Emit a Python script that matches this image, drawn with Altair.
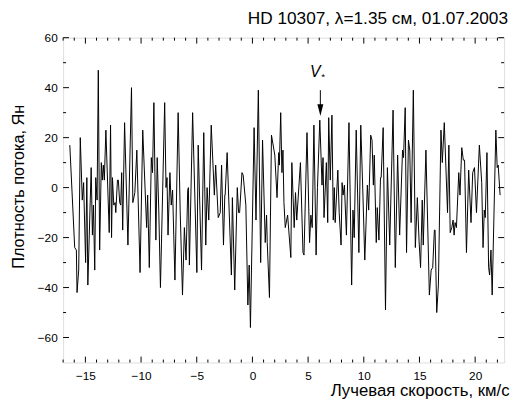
import altair as alt
import pandas as pd

# ---- data ----
velocity = [
    -16.40, -15.96, -15.81, -15.75, -15.60, -15.46, -15.28, -15.16, -14.98, -14.87,
    -14.78, -14.48, -14.37, -14.28, -14.16, -14.07, -13.95, -13.84, -13.72, -13.57,
    -13.48, -13.39, -13.30, -13.16, -12.86, -12.74, -12.65, -12.57, -12.45, -12.33,
    -12.27, -12.12, -12.04, -11.92, -11.83, -11.74, -11.65, -11.48, -11.18, -10.86,
    -10.74, -10.56, -10.38, -10.09, -9.85, -9.50, -9.41, -9.26, -9.08, -8.97,
    -8.85, -8.67, -8.55, -8.41, -8.26, -7.88, -7.76, -7.67, -7.58, -7.41,
    -7.29, -7.17, -6.96, -6.67, -6.49, -6.28, -6.11, -5.96, -5.81, -5.75,
    -5.66, -5.37, -4.99, -4.87, -4.57, -4.37, -4.19, -4.07, -3.92, -3.70,
    -3.42, -3.30, -3.07, -2.89, -2.77, -2.60, -2.48, -2.45, -2.27, -1.89,
    -1.80, -1.59, -1.36, -1.24, -1.15, -0.94, -0.83, -0.59, -0.41, -0.29,
    -0.18, 0.15, 0.32, 0.53, 0.74, 0.91, 1.15, 1.27, 1.33, 1.53,
    1.71, 2.01, 2.21, 2.36, 2.42, 2.54, 2.65, 2.74, 2.83, 2.95,
    3.16, 3.45, 3.54, 3.75, 3.87, 3.98, 4.31, 4.54, 4.63, 4.90,
    5.13, 5.25, 5.37, 5.52, 5.72, 5.84, 6.05, 6.25, 6.34, 6.43,
    6.64, 6.76, 6.85, 6.99, 7.14, 7.26, 7.35, 7.43, 7.67, 7.79,
    7.96, 8.05, 8.14, 8.26, 8.44, 8.67, 8.91, 9.03, 9.14, 9.32,
    9.56, 9.73, 9.91, 10.09, 10.32, 10.44, 10.62, 10.74, 10.86, 10.94,
    11.12, 11.21, 11.36, 11.50, 11.56, 11.74, 11.95, 12.12, 12.33, 12.63,
    12.83, 13.04, 13.22, 13.48, 13.57, 13.72, 13.84, 14.01, 14.13, 14.25,
    14.45, 14.63, 14.81, 14.96, 15.10, 15.25, 15.34, 15.58, 15.89, 16.05,
    16.19, 16.34, 16.40, 16.55, 16.70, 16.93, 17.05, 17.23, 17.52, 17.64,
    17.76, 17.90, 18.02, 18.11, 18.20, 18.32, 18.53, 18.64, 18.80, 18.94,
    19.05, 19.22, 19.42, 19.63, 19.78, 19.94, 20.12, 20.38, 20.59, 20.71,
    20.82, 20.91, 21.06, 21.21, 21.30, 21.42, 21.53, 21.86, 21.98, 22.07,
    22.24,
]
flux = [
    17, -24, -25, -42, -33, 20, -5, 2, -30, 4,
    -39, 8, -19, -7, -33, 4, -5, 47, -25, 10,
    3, 9, 3, 23, -18, 25, -20, 4, -7, -6,
    -10, 3, 3, -6, -7, 6, -17, 26, -23, 40,
    -6, -2, 15, -34, 23, -16, -3, -32, 12, 6,
    34, -21, 12, -9, -40, 34, 0, 4, -19, 6,
    -7, -1, -37, 30, -9, -43, -16, -29, -1, 0,
    -31, 30, -34, 17, -33, 22, -23, 0, -13, 25,
    -3, 9, -12, -10, 9, -23, -3, -3, 14, -35,
    -4, -41, 0, -10, -10, 6, 5, -7, -47, -31,
    -56, 24, -13, 39, -30, 19, -22, -11, -22, -44,
    21, 13, -4, 14, 9, 30, 6, 15, -6, -16,
    -11, -28, 10, -16, -2, -13, 10, -26, -27, 22,
    -22, -11, -16, 25, -27, 0, 27, 1, 12, -12,
    10, -14, 28, 3, 29, -13, 0, -14, 7, -10,
    -23, 2, -3, 1, -19, 26, -39, -9, -20, 23,
    -26, 25, -1, -29, 1, -9, 21, 19, 1, 13,
    -22, -8, -21, 4, 4, 24, -49, 8, -23, 31,
    -32, 13, -19, 15, 12, 32, -26, 19, 15, -14,
    39, -24, -4, -21, -32, -5, -23, 15, -43, -33,
    -32, -17, -17, -50, -39, 23, 10, 26, -10, 17,
    -18, -16, -13, -19, -14, -16, 6, -3, 16, 11,
    11, -26, 7, -14, 6, 8, -10, 17, 2, -24,
    -9, -12, 14, -32, -35, -25, -43, 23, 8, 9,
    -3,
]
x_major = [-15, -10, -5, 0, 5, 10, 15, 20]
x_minor = [v for v in range(-17, 23) if v % 5 != 0]
y_major = [-60, -40, -20, 0, 20, 40, 60]
y_minor = [-50, -30, -10, 10, 30, 50]

title_text = "HD 10307, \u03bb=1.35 \u0441\u043c, 01.07.2003"
x_title = "\u041b\u0443\u0447\u0435\u0432\u0430\u044f \u0441\u043a\u043e\u0440\u043e\u0441\u0442\u044c, \u043a\u043c/\u0441"
y_title = "\u041f\u043b\u043e\u0442\u043d\u043e\u0441\u0442\u044c \u043f\u043e\u0442\u043e\u043a\u0430, \u042f\u043d"

marker_v = [6.1]
marker_top = [39.0]
marker_head = [31.0]
label_v = [5.65]
label_f = [46.3]

# ---- chart ----
W, H = 448, 330
FONT = "Liberation Sans"
xs = alt.Scale(domain=[-17, 22.6], nice=False, zero=False)
ys = alt.Scale(domain=[-70, 60], nice=False, zero=False)

xaxis = alt.Axis(
    values=x_major, title=x_title, ticks=False, tickSize=0, domain=False, grid=False,
    labelFontSize=12, labelFont=FONT, labelColor="black", labelPadding=8,
    titleFont=FONT, titleFontSize=17, titleFontWeight="normal", titleColor="black",
    titleAlign="right", titleAnchor="end", titleBaseline="alphabetic",
    titleX=453, titleY=34)
yaxis = alt.Axis(
    values=y_major, title=y_title, ticks=False, tickSize=0, domain=False, grid=False,
    labelFontSize=12, labelFont=FONT, labelColor="black", labelPadding=6,
    titleFont=FONT, titleFontSize=16.5, titleFontWeight="normal", titleColor="black",
    titleX=-37, titleY=151)


def X(field):
    return alt.X(field, scale=xs, axis=xaxis)


def Y(field):
    return alt.Y(field, scale=ys, axis=yaxis)


line = alt.Chart(pd.DataFrame({"v": velocity, "f": flux})).mark_line(
    color="black", strokeWidth=1
).encode(x=X("v:Q"), y=Y("f:Q"))


def xticks(vals, y0, y1):
    return alt.Chart(pd.DataFrame({"v": vals})).mark_rule(color="black", strokeWidth=1).encode(
        x=X("v:Q"), y=alt.value(y0), y2=alt.value(y1))


def yticks(vals, x0, x1):
    return alt.Chart(pd.DataFrame({"f": vals})).mark_rule(color="black", strokeWidth=1).encode(
        y=Y("f:Q"), x=alt.value(x0), x2=alt.value(x1))


ticks = [
    xticks(x_major, H, H - 6), xticks(x_minor, H, H - 3),
    xticks(x_major, 0, 6), xticks(x_minor, 0, 3),
    yticks(y_major, 0, 6), yticks(y_minor, 0, 3),
    yticks(y_major, W, W - 6), yticks(y_minor, W, W - 3),
]

mk = pd.DataFrame({"v": marker_v, "top": marker_top, "head": marker_head})
arrow_shaft = alt.Chart(mk).mark_rule(color="black", strokeWidth=1).encode(
    x=X("v:Q"), y=Y("top:Q"), y2="head:Q")
arrow_head = alt.Chart(mk).mark_point(
    shape="M-0.5,-1L0.5,-1L0,1Z", filled=True, color="black", size=144, opacity=1
).encode(x=X("v:Q"), y=Y("head:Q"))

lab = pd.DataFrame({"v": label_v, "f": label_f})
v_text = alt.Chart(lab).mark_text(
    text="V", font=FONT, fontSize=16, fontStyle="italic", color="black", align="center", baseline="middle"
).encode(x=X("v:Q"), y=Y("f:Q"))
star_text = alt.Chart(lab).mark_text(
    text="*", font=FONT, fontSize=10, color="black", align="left", baseline="middle", dx=6, dy=5
).encode(x=X("v:Q"), y=Y("f:Q"))

title = alt.Chart(pd.DataFrame({"t": [title_text]})).mark_text(
    font=FONT, fontSize=17.5, color="black", align="right", baseline="alphabetic"
).encode(text="t:N", x=alt.value(452), y=alt.value(-14))

chart = alt.layer(line, *ticks, arrow_shaft, arrow_head, v_text, star_text, title).properties(
    width=W, height=H,
    autosize=alt.AutoSizeParams(type="none"),
    padding={"left": 56, "top": 27, "right": 6, "bottom": 40},
).configure_view(stroke="black", strokeWidth=1).configure(background="white")

chart.save("out.html", embed_options={"renderer": "svg", "actions": False})
